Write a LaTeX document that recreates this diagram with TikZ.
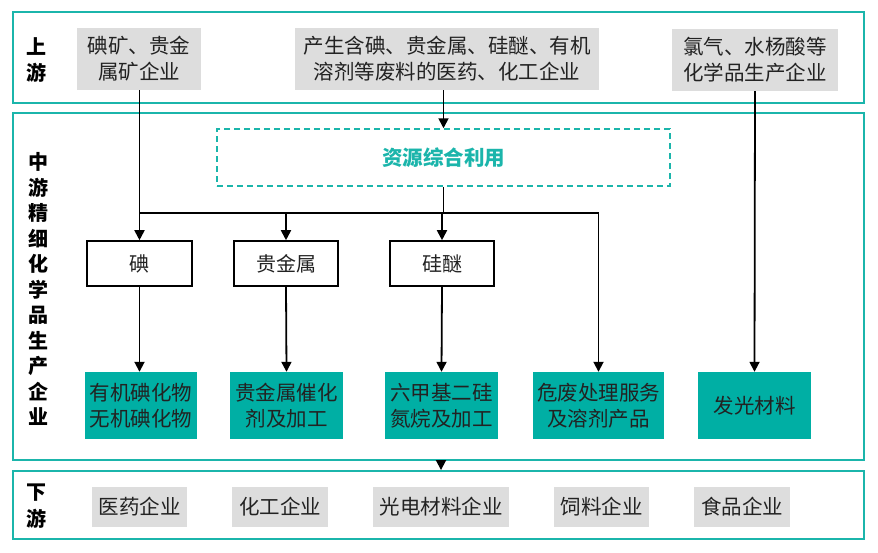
\documentclass[tikz,border=0pt]{standalone}
\usepackage{fontspec}
\setmainfont{Noto Sans CJK SC}
\usepackage{xcolor}
\usepackage{tikz}
\usetikzlibrary{arrows.meta, positioning}

\definecolor{tealline}{HTML}{1BB5AB}
\definecolor{tealfill}{HTML}{00AFA4}
\definecolor{graybox}{HTML}{DDDDDD}
\definecolor{textgray}{HTML}{222222}

\begin{document}
\begin{tikzpicture}[
      x=1pt, y=-1pt,
      stage/.style={
        rectangle,
        draw=tealline,
        line width=1.9pt,
        minimum width=851pt
      },
      stagelabel/.style={
        font=\fontsize{20}{25.5}\selectfont\bfseries,
        text=black,
        align=center,
        inner sep=0pt
      },
      source/.style={
        rectangle,
        fill=graybox,
        text=textgray,
        align=center,
        font=\fontsize{20.5}{26}\selectfont,
        inner sep=0pt
      },
      material/.style={
        rectangle,
        draw=black,
        line width=1.6pt,
        fill=white,
        text=textgray,
        font=\fontsize{20}{24}\selectfont,
        minimum height=45pt,
        inner sep=0pt
      },
      product/.style={
        rectangle,
        fill=tealfill,
        text=textgray,
        align=center,
        font=\fontsize{20.5}{26}\selectfont,
        minimum height=67pt,
        inner sep=0pt
      },
      arrow/.style={
        line width=1.8pt,
        -{Triangle[length=10pt,width=10pt]}
      }
    ]
    \useasboundingbox (0,0) rectangle (878,552);

    % Stage Frames
    \node (upStage) [stage, minimum height=91pt] at (438.5,57.5) {};
    \node (midStage) [stage, minimum height=347pt] at (438.5,286.5) {};
    \node (downStage) [stage, minimum height=68pt] at (438.5,505) {};

    % Stage Labels
    \node (upLabel) [stagelabel] at (37,60) {上\\游};
    \node (midLabel) [stagelabel] at (38,289) {中\\游\\精\\细\\化\\学\\品\\生\\产\\企\\业};
    \node (downLabel) [stagelabel, font=\fontsize{20}{27}\selectfont\bfseries] at (37,506) {下\\游};

    % Upstream Nodes
    \node (iodineOre) [source, minimum width=124pt, minimum height=62pt] at (139,59) {碘矿、贵金\\属矿企业};
    \node (wasteMakers) [source, minimum width=304pt, minimum height=62pt] at (447,59) {产生含碘、贵金属、硅醚、有机\\溶剂等废料的医药、化工企业};
    \node (chemMakers) [source, minimum width=166pt, minimum height=62pt] at (755,60) {氯气、水杨酸等\\化学品生产企业};

    % Midstream Nodes
    \node (reuse) [rectangle, draw=tealline, dashed, dash pattern=on 6pt off 4pt, line width=1.5pt,
      minimum width=453pt, minimum height=57pt, text=tealline,
      font=\fontsize{20.5}{24}\selectfont\bfseries] at (443.5,157.5) {资源综合利用};
    \node (iodine) [material, minimum width=105pt] at (139.5,263.5) {碘};
    \node (preciousMetal) [material, minimum width=104pt] at (286,263.5) {贵金属};
    \node (siliconEther) [material, minimum width=104pt] at (442,263.5) {硅醚};

    \node (iodides) [product, minimum width=112pt] at (141,405.5) {有机碘化物\\无机碘化物};
    \node (catalyst) [product, minimum width=113pt] at (286.5,405.5) {贵金属催化\\剂及加工};
    \node (hmds) [product, minimum width=113pt] at (441.5,405.5) {六甲基二硅\\氮烷及加工};
    \node (wasteService) [product, minimum width=131pt] at (598.5,405.5) {危废处理服务\\及溶剂产品};
    \node (luminous) [product, minimum width=113pt] at (754.5,405.5) {发光材料};

    \coordinate (busLeft) at (139,213);

    % Downstream Nodes
    \node (pharma) [source, minimum width=95pt, minimum height=40pt] at (139.5,507) {医药企业};
    \node (chemical) [source, minimum width=96pt, minimum height=40pt] at (280,507) {化工企业};
    \node (optoelec) [source, minimum width=136pt, minimum height=40pt] at (441,507) {光电材料企业};
    \node (feed) [source, minimum width=95pt, minimum height=40pt] at (601.5,507) {饲料企业};
    \node (food) [source, minimum width=96pt, minimum height=40pt] at (742,507) {食品企业};

    % Arrows
    \draw [arrow] (iodineOre.south -| iodine.north) -- (iodine.north);
    \draw [arrow] (wasteMakers.south -| reuse.north) -- (reuse.north);
    \draw [line width=1.8pt] (reuse.south) -- (reuse.south |- busLeft);
    \draw [arrow] (busLeft) -| (wasteService.north);
    \draw [arrow] (preciousMetal.north |- busLeft) -- (preciousMetal.north);
    \draw [arrow] (siliconEther.north |- busLeft) -- (siliconEther.north);
    \draw [arrow] (chemMakers.south) -- (luminous.north);

    \draw [arrow] (iodine.south) -- (iodides.north -| iodine.south);
    \draw [arrow] (preciousMetal.south) -- (catalyst.north);
    \draw [arrow] (siliconEther.south) -- (hmds.north);

    \draw [arrow] (midStage.south -| optoelec.north) -- (downStage.north -| optoelec.north);

    \end{tikzpicture}
\end{document}
